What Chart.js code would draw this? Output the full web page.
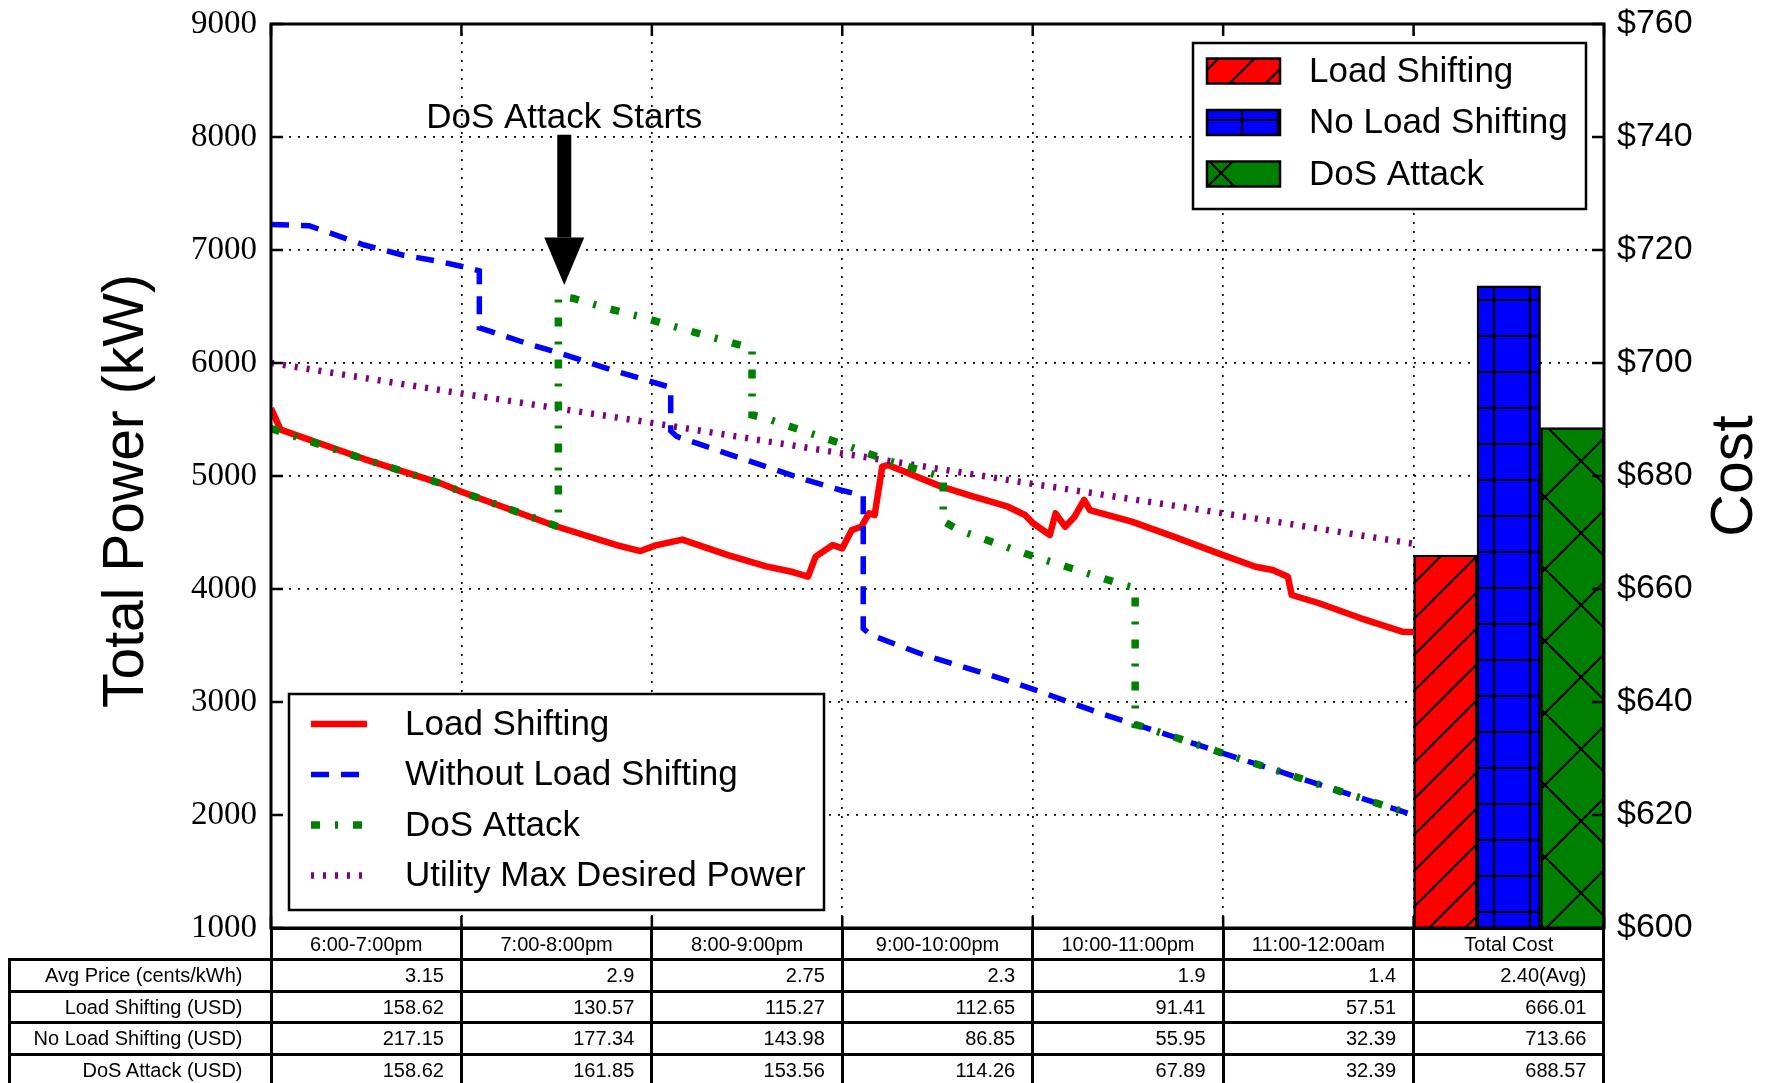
<!DOCTYPE html>
<html>
<head>
<meta charset="utf-8">
<title>Total power and cost under load shifting / DoS attack</title>
<script src="https://cdn.jsdelivr.net/npm/chart.js@4.4.1/dist/chart.umd.min.js"></script>
<style>
  html, body { margin: 0; padding: 0; background: #fff; }
  #wrap { position: relative; width: 1765px; height: 1083px; overflow: hidden; }
  #myChart { position: absolute; left: 0; top: 0; }
  #costTable { position: absolute; left: 0; top: 0; width: 1765px; height: 1083px;
               font-family: 'Liberation Sans', Arial, sans-serif; font-size: 20px; color: #000; }
  .cell { position: absolute; box-sizing: border-box; border: 3px solid #000; white-space: nowrap; overflow: hidden; }
</style>
</head>
<body>
<div id="wrap">
  <canvas id="myChart" width="1765" height="1083"></canvas>
  <div id="costTable"></div>
</div>
<script>
// x values are hours after 6:00pm, y values in kW
const loadShiftHours = [0, 0.05, 0.49, 0.89, 1.0, 1.5, 1.82, 1.94, 2.02, 2.16, 2.4, 2.6, 2.74, 2.82, 2.86, 2.95, 3.0, 3.05, 3.1, 3.14, 3.17, 3.21, 3.24, 3.52, 3.69, 3.87, 3.96, 4.0, 4.09, 4.12, 4.17, 4.22, 4.27, 4.3, 4.52, 4.74, 5.0, 5.17, 5.26, 5.34, 5.36, 5.5, 5.72, 5.94, 6.0];
const loadShiftKW    = [5600, 5410, 5150, 4935, 4860, 4553, 4386, 4336, 4386, 4437, 4300, 4200, 4150, 4110, 4286, 4389, 4360, 4522, 4551, 4670, 4655, 5083, 5097, 4906, 4817, 4728, 4655, 4584, 4478, 4670, 4551, 4640, 4788, 4699, 4596, 4463, 4300, 4197, 4168, 4108, 3947, 3876, 3743, 3622, 3620];

const noShiftHours = [0, 0.2, 0.49, 0.69, 0.89, 1.045, 1.094, 1.094, 1.116, 1.343, 1.518, 1.763, 1.938, 2.087, 2.099, 2.099, 2.13, 2.34, 2.6, 2.81, 2.99, 3.11, 3.11, 3.15, 3.43, 3.69, 3.83, 4.04, 4.2, 4.37, 4.55, 4.79, 5.0, 5.3, 5.54, 5.81, 6.0];
const noShiftKW    = [7225, 7215, 7044, 6956, 6897, 6838, 6815, 6310, 6300, 6174, 6086, 5953, 5865, 5790, 5785, 5400, 5350, 5230, 5082, 4965, 4876, 4825, 3650, 3593, 3416, 3283, 3210, 3091, 2994, 2891, 2796, 2664, 2546, 2383, 2250, 2103, 2000];

const dosHours = [0, 0.49, 0.89, 1.0, 1.509, 1.509, 1.588, 1.763, 1.94, 2.18, 2.43, 2.526, 2.526, 2.6, 2.78, 2.99, 3.23, 3.53, 3.53, 3.61, 3.955, 4.48, 4.538, 4.538, 4.55, 4.79, 5.0, 5.3, 5.54, 5.81, 6.0];
const dosKW    = [5420, 5150, 4935, 4860, 4551, 6590, 6572, 6484, 6410, 6292, 6174, 6130, 5540, 5510, 5407, 5290, 5142, 4990, 4600, 4522, 4316, 4035, 4010, 2800, 2796, 2664, 2546, 2383, 2250, 2103, 2000];

const maxPowerHours = [0, 1, 2, 3, 4, 5, 6];
const maxPowerKW    = [6000, 5730, 5470, 5200, 4930, 4670, 4400];

// table under the plot
const periods = ['6:00-7:00pm', '7:00-8:00pm', '8:00-9:00pm', '9:00-10:00pm', '10:00-11:00pm', '11:00-12:00am', 'Total Cost'];
const rowLabels = ['Avg Price (cents/kWh)', 'Load Shifting (USD)', 'No Load Shifting (USD)', 'DoS Attack (USD)'];
const avgPrice = ['3.15', '2.9', '2.75', '2.3', '1.9', '1.4', '2.40(Avg)'];
const loadShiftCost = [158.62, 130.57, 115.27, 112.65, 91.41, 57.51, 666.01];
const noShiftCost   = [217.15, 177.34, 143.98, 86.85, 55.95, 32.39, 713.66];
const dosCost       = [158.62, 161.85, 153.56, 114.26, 67.89, 32.39, 688.57];

const totalColumnHour = 6.5;   // middle of the "Total Cost" column
const attackHour = 1.54;       // "DoS Attack Starts" arrow
const attackLabelKW = 8080;
const arrowTopKW = 8020;
const arrowHeadKW = 7110;
const arrowTipKW = 6690;

const SANS = "'Liberation Sans', Arial, sans-serif";
Chart.defaults.font.family = SANS;
Chart.defaults.color = '#000';

function toPoints(hours, values) {
    return hours.map((h, i) => ({ x: h, y: values[i] }));
}

function makeHatch(color, kind, size, shiftX, shiftY) {
    const tile = document.createElement('canvas');
    tile.width = size;
    tile.height = size;
    const g = tile.getContext('2d');
    g.fillStyle = color;
    g.fillRect(0, 0, size, size);
    g.strokeStyle = '#000';
    g.lineWidth = 2.2;
    g.beginPath();
    if (kind === '/' || kind === 'x') {
        g.moveTo(0, size); g.lineTo(size, 0);
        g.moveTo(-2, 2); g.lineTo(2, -2);
        g.moveTo(size - 2, size + 2); g.lineTo(size + 2, size - 2);
    }
    if (kind === 'x') {
        g.moveTo(0, 0); g.lineTo(size, size);
        g.moveTo(size - 2, -2); g.lineTo(size + 2, 2);
        g.moveTo(-2, size - 2); g.lineTo(2, size + 2);
    }
    if (kind === '+') {
        g.moveTo(size / 2, 0); g.lineTo(size / 2, size);
        g.moveTo(0, 12); g.lineTo(size, 12);
    }
    g.stroke();
    const pattern = document.createElement('canvas').getContext('2d').createPattern(tile, 'repeat');
    pattern.setTransform(new DOMMatrix([1, 0, 0, 1, shiftX, shiftY]));
    return pattern;
}

const hatchRed = makeHatch('#ff0000', '/', 36, 17, 0);
const hatchBlue = makeHatch('#0000ff', '+', 36, 0, 0);
const hatchGreen = makeHatch('#008000', 'x', 72, 69, 29);

function drawRotatedTitle(ctx, text, x, y, size, baseline) {
    ctx.save();
    ctx.translate(x, y);
    ctx.rotate(-Math.PI / 2);
    ctx.font = size + 'px ' + SANS;
    ctx.textAlign = 'center';
    ctx.textBaseline = baseline;
    ctx.fillStyle = '#000';
    ctx.fillText(text, 0, 0);
    ctx.restore();
}

const overlay = {
    id: 'overlay',
    afterDatasetsDraw(chart) {
        const { ctx, chartArea: a, scales: { x, y, y1 } } = chart;
        ctx.save();
        // inward tick marks
        ctx.strokeStyle = '#000';
        ctx.lineWidth = 2.5;
        ctx.beginPath();
        y.ticks.forEach(t => { const p = y.getPixelForValue(t.value); ctx.moveTo(a.left, p); ctx.lineTo(a.left + 12, p); });
        y1.ticks.forEach(t => { const p = y1.getPixelForValue(t.value); ctx.moveTo(a.right, p); ctx.lineTo(a.right - 12, p); });
        x.ticks.forEach(t => {
            const p = x.getPixelForValue(t.value);
            ctx.moveTo(p, a.bottom); ctx.lineTo(p, a.bottom - 12);
            ctx.moveTo(p, a.top); ctx.lineTo(p, a.top + 12);
        });
        ctx.stroke();
        // frame
        ctx.lineWidth = 3;
        ctx.strokeRect(a.left, a.top, a.right - a.left, a.bottom - a.top);

        // DoS arrow and label
        const ax = x.getPixelForValue(attackHour);
        const yTop = y.getPixelForValue(arrowTopKW);
        const yHead = y.getPixelForValue(arrowHeadKW);
        const yTip = y.getPixelForValue(arrowTipKW);
        ctx.fillStyle = '#000';
        ctx.fillRect(ax - 7, yTop, 14, yHead - yTop);
        ctx.beginPath();
        ctx.moveTo(ax - 20, yHead);
        ctx.lineTo(ax + 20, yHead);
        ctx.lineTo(ax, yTip);
        ctx.closePath();
        ctx.fill();
        ctx.font = '35px ' + SANS;
        ctx.textAlign = 'center';
        ctx.textBaseline = 'alphabetic';
        ctx.fillText('DoS Attack Starts', ax, y.getPixelForValue(attackLabelKW));
        ctx.restore();
    },
    afterDraw(chart) {
        const { ctx, chartArea: a } = chart;
        const sets = chart.data.datasets;
        ctx.save();
        ctx.font = '35px ' + SANS;
        ctx.textBaseline = 'middle';
        ctx.textAlign = 'left';

        // legend for the power lines (lower left)
        let bx = a.left + 18, bw = 535, bh = 216, by = a.bottom - 18 - bh;
        ctx.fillStyle = '#fff';
        ctx.fillRect(bx, by, bw, bh);
        ctx.lineWidth = 2.5;
        ctx.strokeStyle = '#000';
        ctx.strokeRect(bx, by, bw, bh);
        sets.filter(d => d.type === 'line').forEach((d, i) => {
            const cy = by + 30 + i * 50.5;
            ctx.save();
            ctx.strokeStyle = d.borderColor;
            ctx.lineWidth = d.borderWidth;
            ctx.setLineDash(d.borderDash || []);
            ctx.beginPath();
            ctx.moveTo(bx + 22, cy);
            ctx.lineTo(bx + 78, cy);
            ctx.stroke();
            ctx.restore();
            ctx.fillStyle = '#000';
            ctx.fillText(d.label, bx + 116, cy + 1);
        });

        // legend for the cost bars (upper right)
        bw = 393; bh = 166; bx = a.right - 18 - bw; by = a.top + 19;
        ctx.fillStyle = '#fff';
        ctx.fillRect(bx, by, bw, bh);
        ctx.strokeStyle = '#000';
        ctx.lineWidth = 2.5;
        ctx.strokeRect(bx, by, bw, bh);
        sets.filter(d => d.type === 'bar').forEach((d, i) => {
            const cy = by + 28 + i * 51.5;
            ctx.fillStyle = d.backgroundColor;
            ctx.fillRect(bx + 14, cy - 12.5, 73, 25);
            ctx.lineWidth = 2.5;
            ctx.strokeRect(bx + 14, cy - 12.5, 73, 25);
            ctx.fillStyle = '#000';
            ctx.fillText(d.label, bx + 116, cy + 1);
        });
        ctx.restore();

        // axis titles, both read bottom to top
        const midY = (a.top + a.bottom) / 2;
        drawRotatedTitle(ctx, 'Total Power (kW)', 127, midY + 15, 57, 'middle');
        drawRotatedTitle(ctx, 'Cost', 1752, midY, 59, 'alphabetic');
    }
};

const gridStyle = { color: '#000', lineWidth: 1.7, drawTicks: false };

function fixWidth(w) {
    return (scale) => {
        scale.width = w;
        scale.paddingTop = 0;
        scale.paddingBottom = 0;
    };
}

const ctx = document.getElementById('myChart').getContext('2d');
const myChart = new Chart(ctx, {
    type: 'line',
    data: {
        datasets: [
            {
                type: 'line', label: 'Load Shifting', data: toPoints(loadShiftHours, loadShiftKW),
                borderColor: '#ff0000', borderWidth: 6.5, borderJoinStyle: 'round', order: 4
            },
            {
                type: 'line', label: 'Without Load Shifting', data: toPoints(noShiftHours, noShiftKW),
                borderColor: '#0000ff', borderWidth: 5.5, borderDash: [18, 12], order: 3
            },
            {
                type: 'line', label: 'DoS Attack', data: toPoints(dosHours, dosKW),
                borderColor: '#008000', borderWidth: 7.5, borderDash: [9, 15, 3, 15], order: 1
            },
            {
                type: 'line', label: 'Utility Max Desired Power', data: toPoints(maxPowerHours, maxPowerKW),
                borderColor: '#800080', borderWidth: 6.5, borderDash: [3, 9], order: 2
            },
            {
                type: 'bar', label: 'Load Shifting', data: [{ x: totalColumnHour, y: loadShiftCost[6] }],
                yAxisID: 'y1', backgroundColor: hatchRed, borderColor: '#000', borderWidth: 2.5,
                borderSkipped: false, barThickness: 63.5, order: 5
            },
            {
                type: 'bar', label: 'No Load Shifting', data: [{ x: totalColumnHour, y: noShiftCost[6] }],
                yAxisID: 'y1', backgroundColor: hatchBlue, borderColor: '#000', borderWidth: 2.5,
                borderSkipped: false, barThickness: 63.5, order: 5
            },
            {
                type: 'bar', label: 'DoS Attack', data: [{ x: totalColumnHour, y: dosCost[6] }],
                yAxisID: 'y1', backgroundColor: hatchGreen, borderColor: '#000', borderWidth: 2.5,
                borderSkipped: false, barThickness: 63.5, order: 5
            }
        ]
    },
    options: {
        responsive: false,
        animation: false,
        devicePixelRatio: 1,
        events: [],
        elements: { point: { radius: 0 }, line: { tension: 0, fill: false } },
        layout: { padding: { top: 24, left: 0, right: 0, bottom: 0 } },
        plugins: { legend: { display: false }, tooltip: { enabled: false } },
        scales: {
            x: {
                type: 'linear', position: 'bottom', min: 0, max: 7, offset: false,
                ticks: { display: false, stepSize: 1 },
                grid: { ...gridStyle, offset: false },
                border: { display: false, dash: [2, 7] },
                afterFit: (scale) => { scale.height = 155; }
            },
            y: {
                position: 'left', min: 1000, max: 9000, beginAtZero: false,
                ticks: {
                    stepSize: 1000, padding: 14, font: { family: "'Liberation Serif', serif", size: 33 },
                    callback: (v) => String(v)
                },
                grid: gridStyle,
                border: { display: false, dash: [2, 7] },
                afterFit: fixWidth(271)
            },
            y1: {
                position: 'right', min: 600, max: 760, beginAtZero: false,
                ticks: { stepSize: 20, padding: 13, font: { size: 34 }, callback: (v) => '$' + v },
                grid: { drawOnChartArea: false, drawTicks: false },
                border: { display: false },
                afterFit: fixWidth(161)
            }
        }
    },
    plugins: [overlay]
});

// table aligned with the hour columns of the chart
function buildTable(chart) {
    const host = document.getElementById('costTable');
    const xs = chart.scales.x;
    const top = chart.chartArea.bottom;
    const rowH = 31.5;
    const tableLeft = 9;
    const edges = [tableLeft];
    for (let i = 0; i <= periods.length; i++) edges.push(xs.getPixelForValue(i));

    function addCell(c, r, text, align, bordered) {
        const x0 = edges[c], x1 = edges[c + 1];
        const y0 = top + r * rowH, y1 = y0 + rowH;
        const d = document.createElement('div');
        d.className = 'cell';
        d.style.left = (x0 - 1.5) + 'px';
        d.style.top = (y0 - 1.5) + 'px';
        d.style.width = (x1 - x0 + 3) + 'px';
        d.style.height = (y1 - y0 + 3) + 'px';
        d.style.lineHeight = (rowH - 3) + 'px';
        d.style.textAlign = align;
        if (align === 'right') d.style.paddingRight = (c === 0 ? 27 : 16) + 'px';
        if (!bordered) d.style.borderColor = 'transparent';
        d.textContent = text;
        host.appendChild(d);
    }

    addCell(0, 0, '', 'right', false);
    periods.forEach((p, i) => addCell(i + 1, 0, p, 'center', true));
    const rows = [
        avgPrice,
        loadShiftCost.map(v => v.toFixed(2)),
        noShiftCost.map(v => v.toFixed(2)),
        dosCost.map(v => v.toFixed(2))
    ];
    rows.forEach((vals, r) => {
        addCell(0, r + 1, rowLabels[r], 'right', true);
        vals.forEach((v, i) => addCell(i + 1, r + 1, v, 'right', true));
    });
}
buildTable(myChart);
</script>
</body>
</html>
